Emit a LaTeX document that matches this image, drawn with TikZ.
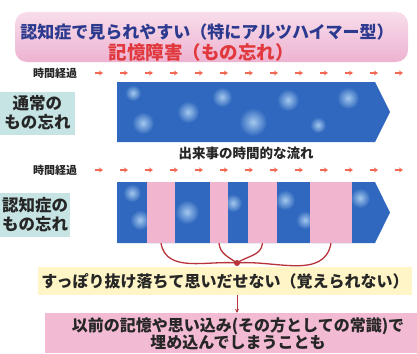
\documentclass[tikz,border=0pt]{standalone}
\usepackage{fontspec}
\newfontfamily\jp{Noto Sans CJK JP}[BoldFont={Noto Sans CJK JP Black}]
\usetikzlibrary{arrows.meta, positioning}
\usepackage{xcolor}

\definecolor{titleblue}{HTML}{2B3A8E}
\definecolor{titlered}{HTML}{E0383C}
\definecolor{titletop}{HTML}{F8DDEB}
\definecolor{titlebot}{HTML}{EDB3D1}
\definecolor{bandblue}{HTML}{2F68BE}
\definecolor{spotblue}{HTML}{A4C8EE}
\definecolor{gappink}{HTML}{F2B5CF}
\definecolor{kindteal}{HTML}{C6E4E3}
\definecolor{arrowred}{HTML}{F26A55}
\definecolor{bracketred}{HTML}{B8333A}
\definecolor{lostyellow}{HTML}{FFF5C6}
\definecolor{fillpink}{HTML}{F2BBD3}

\tikzset{
  titletext/.style={font=\jp\bfseries\fontsize{17}{19}\selectfont, inner sep=0pt},
  timelabel/.style={font=\jp\bfseries\fontsize{11}{12}\selectfont, text=black!85},
  timearrow/.style={-{Stealth[length=4pt,width=5pt]}, draw=arrowred, line width=1.3pt},
  kindbox/.style={fill=kindteal, align=center, inner sep=0pt, text=black!85,
    font=\jp\bfseries\fontsize{16.5}{19}\selectfont},
  gapbox/.style={fill=gappink, inner sep=0pt, minimum height=61pt},
  bracket/.style={draw=bracketred, line width=1.3pt},
  textline/.style={font=\jp\bfseries\fontsize{16}{17}\selectfont, text=black!85, align=center}
}

\begin{document}
\begin{tikzpicture}[x=1pt,y=-1pt]
  \useasboundingbox (0,0) rectangle (417,353);

  % title
  \shade[top color=titletop, bottom color=titlebot, rounded corners=12pt] (15,12) rectangle (408,62);
  \node[titletext, text=titleblue] (title) at (207,32) {認知症で見られやすい（特にアルツハイマー型）};
  \node[titletext, text=titlered, font=\jp\bfseries\fontsize{18.5}{19}\selectfont] (subtitle) at (201,52) {記憶障害（もの忘れ）};

  % normal forgetting
  \node[timelabel] (time1) at (55,73) {時間経過};
  \foreach \i in {0,...,12}
    \draw[timearrow] ({95+\i*25},73) -- ++(8,0);
  \fill[bandblue] (117,82) -- (375,82) -- (390,112) -- (375,142) -- (117,142) -- cycle;
  \foreach \x/\y/\r in {133/93/8, 143/123/11, 188/112/11, 222/97/10, 253/122/14,
                        288/100/11, 318/125/8, 348/98/11}
    \shade[inner color=spotblue, outer color=bandblue] (\x,\y) circle (\r);
  \node[kindbox, minimum width=75pt, minimum height=43pt] (normal) at (37.5,113) {通常の\\もの忘れ};
  \node[font=\jp\bfseries\fontsize{13.5}{14}\selectfont, text=black!85] (flow) at (246,153) {出来事の時間的な流れ};

  % dementia forgetting
  \node[timelabel] (time2) at (55,170) {時間経過};
  \foreach \i in {0,...,12}
    \draw[timearrow] ({95+\i*25},170) -- ++(8,0);
  \fill[bandblue] (117,182) -- (375,182) -- (390,212.5) -- (375,243) -- (117,243) -- cycle;
  \foreach \x/\y/\r in {132/193/9, 140/220/10, 187/212/12, 233/203/9,
                        285/200/10, 305/220/9, 360/198/10}
    \shade[inner color=spotblue, outer color=bandblue] (\x,\y) circle (\r);
  \node[gapbox, minimum width=28pt] (gap1) at (161,212.5) {};
  \node[gapbox, minimum width=18pt] (gap2) at (219,212.5) {};
  \node[gapbox, minimum width=29pt] (gap3) at (262.5,212.5) {};
  \node[gapbox, minimum width=42pt] (gap4) at (331,212.5) {};
  \node[kindbox, minimum width=70pt, minimum height=44pt] (dementia) at (35,215) {認知症の\\もの忘れ};

  % lost memories
  \coordinate (join) at (237,263);
  \draw[bracket] (gap1.south) to[out=-80,in=175] (join);
  \draw[bracket] (gap2.south) to[out=-85,in=145] (join);
  \draw[bracket] (gap3.south) to[out=-95,in=35] (join);
  \draw[bracket] (gap4.south) to[out=-100,in=5] (join);
  \fill[bracketred] (join) circle (3);

  \node[textline, fill=lostyellow, minimum width=372pt, minimum height=28pt] (lost) at (225,281)
    {すっぽり抜け落ちて思いだせない（覚えられない）};
  \node[fill=fillpink, minimum width=372pt, minimum height=40pt, inner sep=0pt] (fillbox) at (231,333) {};
  \node[textline, inner sep=0pt] (fillin) at (238,334)
    {以前の記憶や思い込み(その方としての常識)で\\埋め込んでしまうことも};
  \draw[-{Stealth[length=4pt,width=4pt]}, draw=bracketred, line width=1pt]
    (lost.south -| join) -- (fillbox.north -| join);
\end{tikzpicture}
\end{document}
